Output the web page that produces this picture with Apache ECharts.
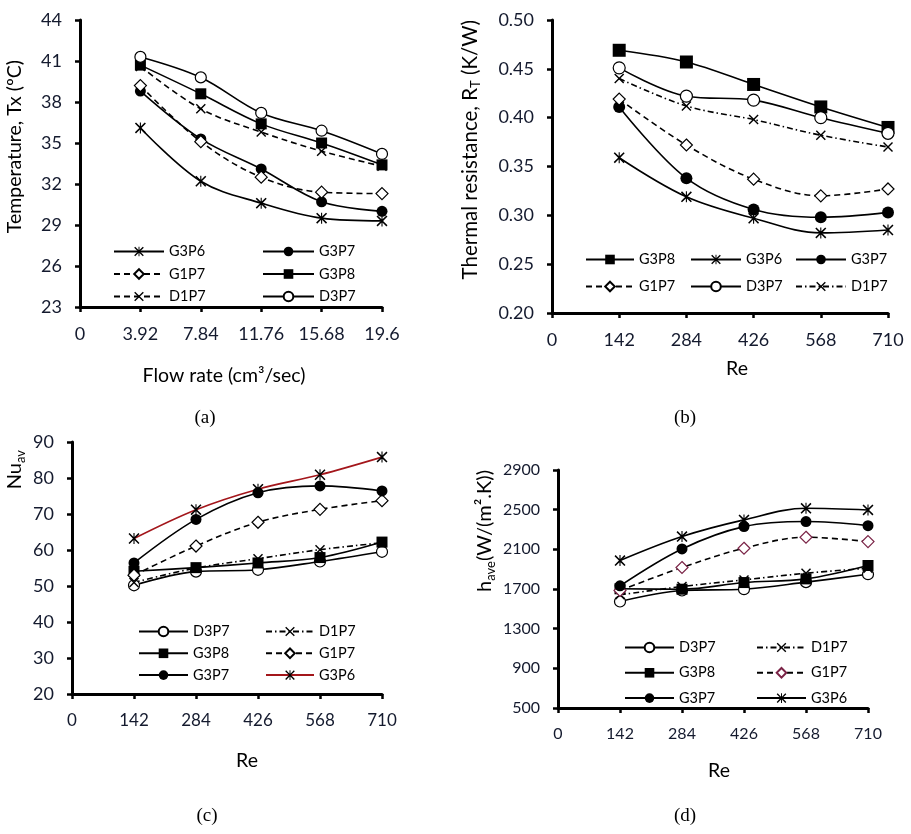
<!DOCTYPE html>
<html>
<head>
<meta charset="utf-8">
<script src="https://cdn.jsdelivr.net/npm/echarts@6.0.0/dist/echarts.min.js"></script>
<style>
  html, body { margin: 0; padding: 0; background: #fff; }
  #main { width: 911px; height: 834px; }
</style>
</head>
<body>
<div id="main"></div>
<script>
// x values
const flowRate = [3.92, 7.84, 11.76, 15.68, 19.6];
const reynolds = [142, 284, 426, 568, 710];

// (a) temperature Tx (°C)
const tempG3P6 = [36.1, 32.2, 30.6, 29.5, 29.3];
const tempG3P7 = [38.8, 35.3, 33.1, 30.7, 30.0];
const tempG1P7 = [39.2, 35.1, 32.5, 31.4, 31.3];
const tempG3P8 = [40.7, 38.6, 36.4, 35.0, 33.4];
const tempD1P7 = [40.6, 37.5, 35.8, 34.4, 33.3];
const tempD3P7 = [41.3, 39.8, 37.2, 35.9, 34.2];

// (b) thermal resistance (K/W)
const resG3P8 = [0.469, 0.457, 0.434, 0.411, 0.390];
const resG3P6 = [0.359, 0.319, 0.297, 0.282, 0.285];
const resG3P7 = [0.411, 0.338, 0.306, 0.298, 0.303];
const resG1P7 = [0.419, 0.372, 0.337, 0.320, 0.327];
const resD3P7 = [0.451, 0.422, 0.418, 0.400, 0.384];
const resD1P7 = [0.440, 0.412, 0.398, 0.382, 0.370];

// (c) Nu_av
const nuD3P7 = [50.2, 54.0, 54.5, 56.8, 59.5];
const nuD1P7 = [51.0, 55.0, 57.6, 60.1, 62.0];
const nuG3P8 = [54.1, 55.1, 56.4, 57.9, 62.2];
const nuG1P7 = [53.0, 61.1, 67.7, 71.3, 73.7];
const nuG3P7 = [56.4, 68.5, 75.9, 77.8, 76.4];
const nuG3P6 = [63.2, 71.2, 76.9, 80.9, 85.8];

// (d) h_ave W/(m2.K)
const hD3P7 = [1574, 1685, 1698, 1769, 1849];
const hD1P7 = [1641, 1725, 1792, 1859, 1910];
const hG3P8 = [1702, 1698, 1765, 1802, 1937];
const hG1P7 = [1685, 1917, 2111, 2222, 2178];
const hG3P7 = [1732, 2104, 2329, 2380, 2339];
const hG3P6 = [1987, 2229, 2397, 2514, 2497];

const FONT = "Lato, 'Open Sans', sans-serif";
const SERIF = "'Liberation Serif', 'DejaVu Serif', serif";
const TICK_COLOR = '#141a2e';

// symbol paths (filled outlines, so they render as strokes)
const SYM_X = 'path://M2,0 L10,8 L18,0 L20,2 L12,10 L20,18 L18,20 L10,12 L2,20 L0,18 L8,10 L0,2 Z';
const SYM_STAR = SYM_X + ' M9,0 L11,0 L11,20 L9,20 Z';

const DASH = [6, 4];
const DASHDOT = [6, 3, 1.5, 3];

const markers = {
    G3P6: { symbol: SYM_STAR, symbolSize: 11, itemStyle: { color: '#000' } },
    G3P7: { symbol: 'circle', symbolSize: 11, itemStyle: { color: '#000' } },
    G1P7: { symbol: 'diamond', symbolSize: 12, itemStyle: { color: '#fff', borderColor: '#000', borderWidth: 1.2 } },
    G3P8: { symbol: 'rect', symbolSize: 11, itemStyle: { color: '#000' } },
    D1P7: { symbol: SYM_X, symbolSize: 10, itemStyle: { color: '#000' } },
    D3P7: { symbol: 'circle', symbolSize: 11, itemStyle: { color: '#fff', borderColor: '#000', borderWidth: 1.2 } }
};

function zip(xs, ys) {
    return xs.map((x, i) => [x, ys[i]]);
}

function line(key, panel, xs, ys, opts) {
    opts = opts || {};
    const m = markers[key];
    return {
        name: key + ' ' + panel,
        type: 'line',
        xAxisIndex: 'abcd'.indexOf(panel),
        yAxisIndex: 'abcd'.indexOf(panel),
        data: zip(xs, ys),
        smooth: 0.35,
        symbol: m.symbol,
        symbolSize: opts.size || m.symbolSize,
        showSymbol: true,
        itemStyle: Object.assign({}, m.itemStyle, opts.itemStyle || {}),
        lineStyle: {
            color: opts.color || '#000',
            width: 1.6,
            type: opts.dash || 'solid'
        },
        emphasis: { disabled: true },
        animation: false
    };
}

// one legend per column; padding 0 so left/top are the item corner
function legend(names, left, top, gap, width) {
    return {
        data: names,
        orient: 'vertical',
        left: left,
        top: top,
        padding: 0,
        itemWidth: width,
        itemHeight: 12,
        itemGap: gap,
        selectedMode: false,
        formatter: n => n.split(' ')[0],
        textStyle: { fontFamily: FONT, fontSize: 14.5, color: '#000' }
    };
}

const axisLine = { show: true, onZero: false, lineStyle: { color: '#000', width: 3 } };
const axisTick = { show: true, inside: false, length: 5, lineStyle: { color: '#000', width: 2.5 } };

function xAxis(grid, max, interval, name, gap, fontSize, pad) {
    return {
        type: 'value', gridIndex: grid, min: 0, max: max, interval: interval,
        axisLine: axisLine, axisTick: axisTick, splitLine: { show: false },
        axisLabel: {
            margin: 18, fontFamily: FONT, fontSize: fontSize, color: TICK_COLOR,
            formatter: v => String(+v.toFixed(2))
        },
        name: name, nameLocation: 'middle', nameGap: gap, nameMoveOverlap: false,
        nameTextStyle: { fontFamily: FONT, fontSize: 19.5, color: '#000', padding: [0, 0, 0, pad || 0] }
    };
}

// rotated title anchored at the axis top: 'drop' pushes it down, 'side' pushes it left
function yAxis(grid, min, max, interval, dec, name, drop, side, fontSize, rich) {
    return {
        type: 'value', gridIndex: grid, min: min, max: max, interval: interval,
        axisLine: axisLine, axisTick: axisTick, splitLine: { show: false },
        axisLabel: {
            margin: 18, fontFamily: FONT, fontSize: fontSize, color: TICK_COLOR,
            formatter: v => v.toFixed(dec)
        },
        name: name, nameLocation: 'end', nameRotate: 90, nameGap: 0, nameMoveOverlap: false,
        nameTextStyle: {
            fontFamily: FONT, fontSize: 19.5, color: '#000',
            align: 'right', verticalAlign: 'bottom',
            padding: [0, drop, side, 0],
            rich: rich
        }
    };
}

const subRich = {
    t: { fontFamily: FONT, fontSize: 20.5, color: '#000', lineHeight: 24, verticalAlign: 'middle' },
    s: { fontFamily: FONT, fontSize: 13, color: '#000', lineHeight: 12, verticalAlign: 'bottom' },
    tb: { fontFamily: FONT, fontSize: 20, color: '#000', lineHeight: 24, verticalAlign: 'middle' },
    sb: { fontFamily: FONT, fontSize: 13, color: '#000', lineHeight: 12, verticalAlign: 'bottom' }
};

function caption(text, x, y) {
    return {
        text: text, left: x, top: y, textAlign: 'center',
        textStyle: { fontFamily: SERIF, fontSize: 19, fontWeight: 'normal', color: '#000' }
    };
}

const option = {
    backgroundColor: '#fff',
    animation: false,
    title: [
        caption('(a)', 200, 404),
        caption('(b)', 680, 404),
        caption('(c)', 202, 802),
        caption('(d)', 680, 802)
    ],
    grid: [
        { left: 80, top: 20, width: 302, height: 287, outerBoundsMode: 'none' },
        { left: 552, top: 20, width: 336, height: 293, outerBoundsMode: 'none' },
        { left: 72, top: 442, width: 310, height: 252, outerBoundsMode: 'none' },
        { left: 558, top: 470, width: 310, height: 238, outerBoundsMode: 'none' }
    ],
    xAxis: [
        xAxis(0, 19.6, 3.92, 'Flow rate (cm³/sec)', 59, 18, -14),
        xAxis(1, 710, 142, 'Re', 46, 18, 34),
        xAxis(2, 710, 142, 'Re', 57, 17, 40),
        xAxis(3, 710, 142, 'Re', 53, 16, 12)
    ],
    yAxis: [
        yAxis(0, 23, 44, 3, 0, 'Temperature, Tx (ºC)', 40, 55, 18, subRich),
        yAxis(1, 0.2, 0.5, 0.05, 2, '{t|Thermal resistance, R}{s|T}{t| (K/W)}', 0, 70, 18, subRich),
        yAxis(2, 20, 90, 10, 0, '{tb|Nu}{sb|av}', 8, 45, 18, subRich),
        yAxis(3, 500, 2900, 400, 0, '{tb|h}{sb|ave}{tb|(W/(m².K))}', 0, 61, 16, subRich)
    ],
    legend: [
        legend(['G3P6 a', 'G1P7 a', 'D1P7 a'], 113, 244, 7.5, 50),
        legend(['G3P7 a', 'G3P8 a', 'D3P7 a'], 262, 244, 7.5, 51),
        legend(['G3P8 b', 'G1P7 b'], 585, 252, 12, 48),
        legend(['G3P6 b', 'D3P7 b'], 690, 252, 12, 50),
        legend(['G3P7 b', 'D1P7 b'], 795, 252, 12, 50),
        legend(['D3P7 c', 'G3P8 c', 'G3P7 c'], 138, 624, 6.8, 49),
        legend(['D1P7 c', 'G1P7 c', 'G3P6 c'], 265, 624, 6.8, 48),
        legend(['D3P7 d', 'G3P8 d', 'G3P7 d'], 624, 640, 10.3, 49),
        legend(['D1P7 d', 'G1P7 d', 'G3P6 d'], 756, 640, 10.3, 49)
    ],
    series: [
        line('G3P6', 'a', flowRate, tempG3P6),
        line('G3P7', 'a', flowRate, tempG3P7),
        line('G1P7', 'a', flowRate, tempG1P7, { dash: DASH }),
        line('G3P8', 'a', flowRate, tempG3P8),
        line('D1P7', 'a', flowRate, tempD1P7, { dash: DASH }),
        line('D3P7', 'a', flowRate, tempD3P7),

        line('G3P8', 'b', reynolds, resG3P8, { size: 13 }),
        line('G3P6', 'b', reynolds, resG3P6),
        line('G3P7', 'b', reynolds, resG3P7, { size: 12 }),
        line('G1P7', 'b', reynolds, resG1P7, { dash: DASH }),
        line('D3P7', 'b', reynolds, resD3P7, { size: 12 }),
        line('D1P7', 'b', reynolds, resD1P7, { dash: DASHDOT }),

        line('D3P7', 'c', reynolds, nuD3P7),
        line('D1P7', 'c', reynolds, nuD1P7, { dash: DASHDOT }),
        line('G3P8', 'c', reynolds, nuG3P8),
        line('G1P7', 'c', reynolds, nuG1P7, { dash: DASH }),
        line('G3P7', 'c', reynolds, nuG3P7),
        line('G3P6', 'c', reynolds, nuG3P6, { color: '#a3161b' }),

        line('D3P7', 'd', reynolds, hD3P7),
        line('D1P7', 'd', reynolds, hD1P7, { dash: DASHDOT }),
        line('G3P8', 'd', reynolds, hG3P8),
        line('G1P7', 'd', reynolds, hG1P7, { dash: DASH, itemStyle: { borderColor: '#7a2346' } }),
        line('G3P7', 'd', reynolds, hG3P7),
        line('G3P6', 'd', reynolds, hG3P6)
    ]
};

const chart = echarts.init(document.getElementById('main'), null, { renderer: 'canvas' });
chart.setOption(option);
</script>
</body>
</html>
